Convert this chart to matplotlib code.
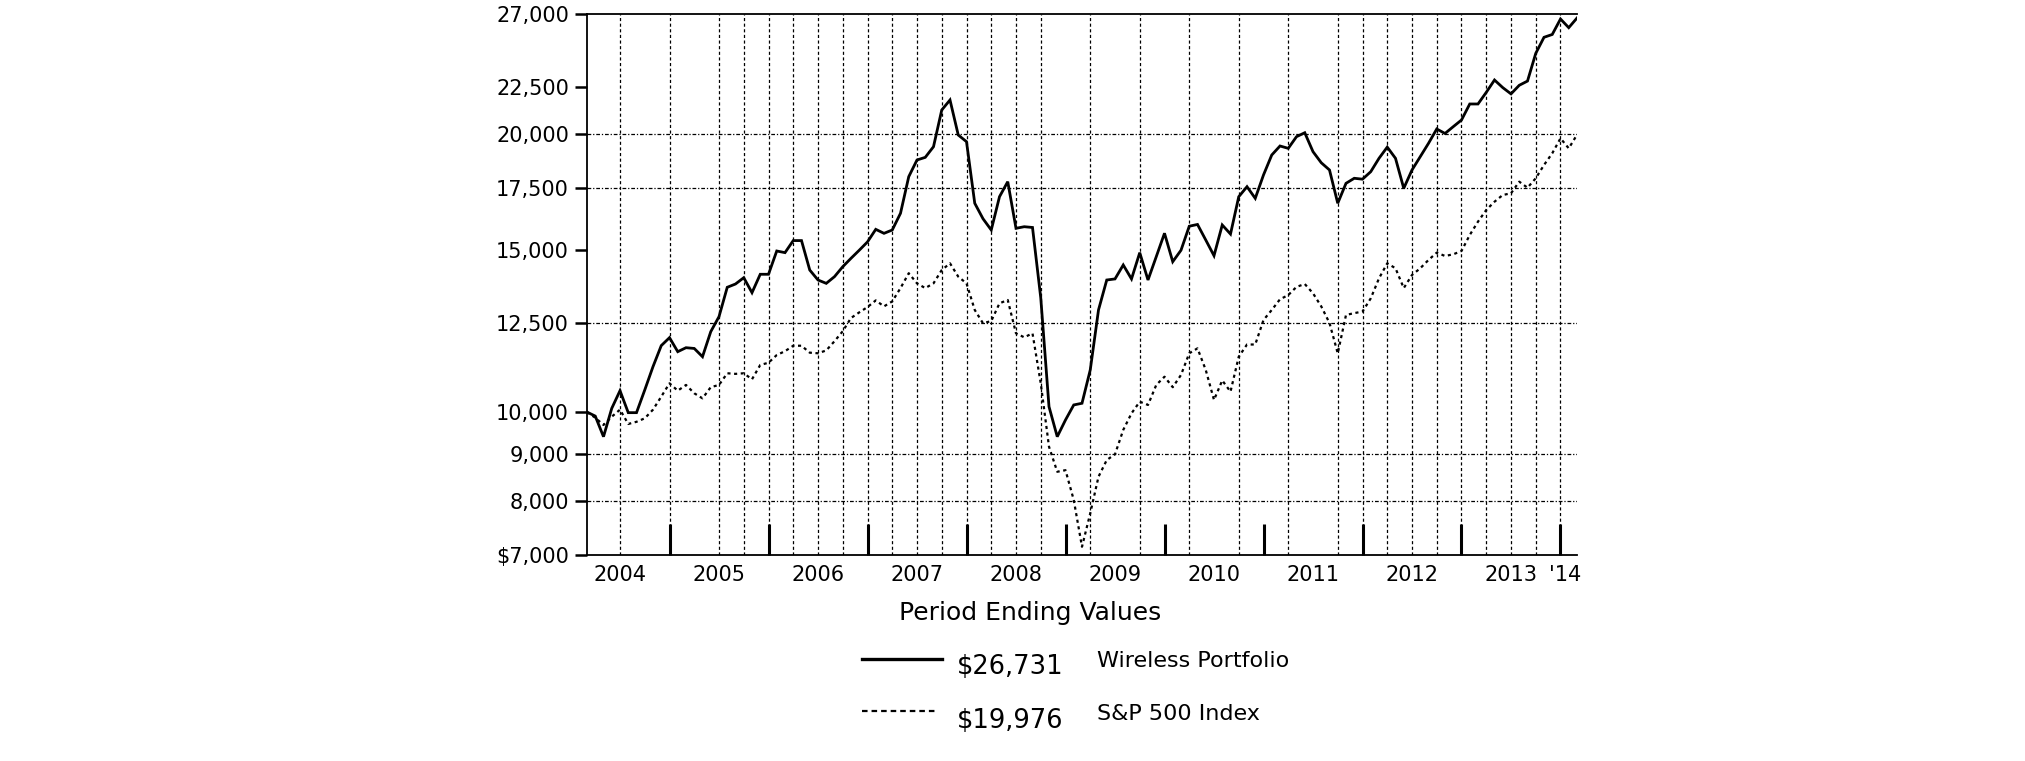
import numpy as np
import matplotlib
matplotlib.use("Agg")
import matplotlib.pyplot as plt
from matplotlib.ticker import FixedLocator, FuncFormatter, NullFormatter
from matplotlib.lines import Line2D

# month-end values, Feb 2004 .. Feb 2014
wireless = [10000, 9900, 9404, 10093, 10548, 9985, 9985, 10566, 11200, 11803,
            12040, 11626, 11742, 11720, 11481, 12221, 12688, 13652, 13765, 13983,
            13470, 14103, 14103, 14947, 14885, 15340, 15340, 14253, 13903, 13787,
            14020, 14372, 14676, 14975, 15290, 15776, 15620, 15750, 16421, 17993,
            18757, 18880, 19389, 21249, 21787, 19963, 19634, 16837, 16200, 15750,
            17115, 17769, 15817, 15880, 15850, 13300, 10136, 9404, 9805, 10179,
            10222, 11108, 12901, 13903, 13940, 14434, 13940, 14885, 13903, 14735,
            15623, 14553, 14975, 15900, 15970, 15363, 14772, 15949, 15592, 17115,
            17548, 17045, 18069, 18992, 19424, 19310, 19880, 20077, 19151, 18629,
            18295, 16837, 17696, 17920, 17880, 18217, 18835, 19370, 18835, 17478,
            18295, 18913, 19553, 20266, 20040, 20383, 20725, 21570, 21570, 22205,
            22900, 22470, 22120, 22600, 22840, 24475, 25475, 25655, 26665, 26095,
            26731]
sp500 = [10000, 9860, 9683, 9885, 10060, 9707, 9760, 9845, 10060, 10392,
         10744, 10548, 10700, 10480, 10348, 10640, 10700, 11016, 11000, 11016,
         10852, 11247, 11310, 11529, 11640, 11800, 11800, 11597, 11580, 11662,
         11934, 12235, 12645, 12824, 12995, 13213, 13017, 13180, 13625, 14140,
         13787, 13625, 13787, 14253, 14494, 14020, 13787, 12901, 12480, 12550,
         13117, 13227, 12171, 12050, 12171, 10744, 9172, 8616, 8650, 8030,
         7146, 7768, 8510, 8872, 9000, 9564, 9968, 10262, 10179, 10700,
         10922, 10640, 10970, 11580, 11723, 11108, 10307, 10822, 10522, 11481,
         11836, 11836, 12582, 12901, 13250, 13390, 13666, 13765, 13450, 13017,
         12488, 11578, 12742, 12800, 12850, 13280, 13961, 14494, 14316, 13625,
         14077, 14316, 14616, 14885, 14762, 14823, 14947, 15555, 16082, 16557,
         16902, 17188, 17260, 17769, 17503, 17920, 18524, 19073, 19800, 19310,
         19976]

year_labels = ['2004', '2005', '2006', '2007', '2008', '2009', '2010',
               '2011', '2012', '2013', "'14"]
ytick_vals = [7000, 8000, 9000, 10000, 12500, 15000, 17500, 20000, 22500, 27000]
grid_y = [8000, 9000, 12500, 17500, 20000]
grid_months = [4, 10, 16, 19, 22, 25, 28, 31, 34, 37, 40, 43, 46, 49, 52, 55,
               61, 67, 73, 79, 85, 91, 94, 97, 100, 103, 106, 109, 112, 115, 118]

x = np.arange(len(wireless))
year_ends = list(range(10, 120, 12))
label_pos = list(range(4, 113, 12)) + [118.6]

W, H = 2025, 761
fig = plt.figure(figsize=(W / 100, H / 100), dpi=100)
ax = fig.add_axes([587 / W, 1 - 555 / H, (1577 - 587) / W, (555 - 14) / H])

for m in grid_months:
    ax.axvline(m, color='black', lw=0.9, ls=(0, (2.5, 2)), zorder=1)
for v in grid_y:
    ax.axhline(v, color='black', lw=0.9, ls=(0, (3, 1.5, 1, 1.5)), zorder=1)

ax.plot(x, wireless, color='black', lw=2.0, solid_joinstyle='miter', zorder=3)
ax.plot(x, sp500, color='black', lw=1.6, ls=(0, (1.4, 1.6)), zorder=3)

ax.set_yscale('log')
ax.set_ylim(7000, 27000)
ax.set_xlim(0, 120)
ax.yaxis.set_major_locator(FixedLocator(ytick_vals))
ax.yaxis.set_minor_locator(FixedLocator([]))
ax.yaxis.set_major_formatter(FuncFormatter(
    lambda v, p: ('${:,.0f}' if v == 7000 else '{:,.0f}').format(v)))
ax.tick_params(axis='y', which='major', direction='out', length=9, width=1.8,
               labelsize=15, pad=4)

ax.xaxis.set_major_locator(FixedLocator(year_ends))
ax.xaxis.set_major_formatter(NullFormatter())
ax.xaxis.set_minor_locator(FixedLocator(label_pos))
ax.xaxis.set_minor_formatter(FuncFormatter(lambda v, p: year_labels[p]))
ax.tick_params(axis='x', which='major', direction='in', length=22, width=2.2)
ax.tick_params(axis='x', which='minor', length=0, labelsize=15, pad=7)

ax.spines['right'].set_visible(False)
for s in ['left', 'top', 'bottom']:
    ax.spines[s].set_linewidth(1.3)

# legend block below the chart
fig.text(1030 / W, 1 - 620 / H, 'Period Ending Values', ha='center',
         va='baseline', fontsize=18)
fig.add_artist(Line2D([862 / W, 942 / W], [1 - 659 / H, 1 - 659 / H],
                      color='black', lw=2.4))
fig.add_artist(Line2D([862 / W, 937 / W], [1 - 711 / H, 1 - 711 / H],
                      color='black', lw=1.6, ls=(0, (2.5, 1.8))))
fig.text(957 / W, 1 - 674 / H, '$26,731', va='baseline', fontsize=18.5)
fig.text(957 / W, 1 - 728 / H, '$19,976', va='baseline', fontsize=18.5)
fig.text(1097 / W, 1 - 667 / H, 'Wireless Portfolio', va='baseline', fontsize=16)
fig.text(1097 / W, 1 - 720 / H, 'S&P 500 Index', va='baseline', fontsize=16)

fig.savefig('out.png', dpi=100)
